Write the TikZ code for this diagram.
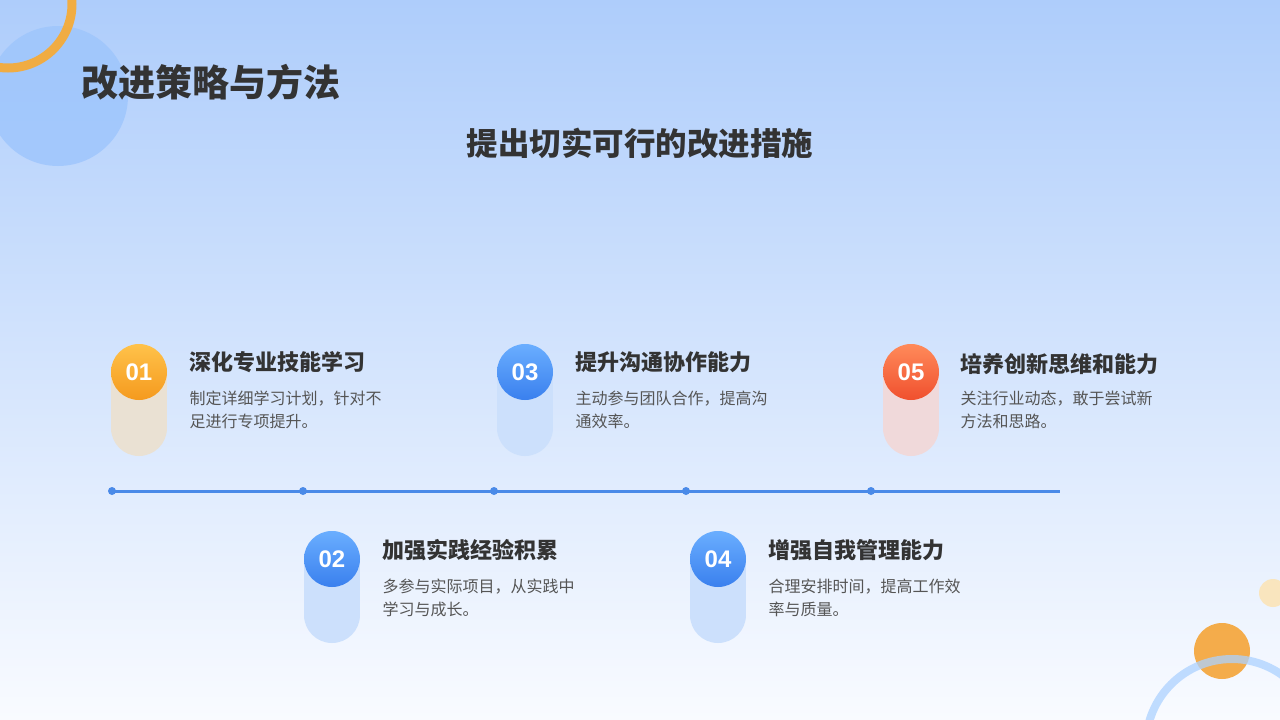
\documentclass[tikz,border=0pt]{standalone}
\usepackage{fontspec}
\setmainfont{Noto Sans CJK SC}
\newfontfamily\numf{Liberation Sans}
\usetikzlibrary{shadings}
\definecolor{bgtop}{HTML}{AECDFB}
\definecolor{bgbot}{HTML}{F9FBFF}
\definecolor{tline}{HTML}{4A8AE8}
\definecolor{txt}{HTML}{333333}
\definecolor{desc}{HTML}{555555}
\definecolor{orA}{HTML}{FFC24A}
\definecolor{orB}{HTML}{F59A1E}
\definecolor{blA}{HTML}{6AAEFF}
\definecolor{blB}{HTML}{3A80EE}
\definecolor{rdA}{HTML}{FF8A5A}
\definecolor{rdB}{HTML}{F0502E}
\definecolor{pOr}{HTML}{EAE1D3}
\definecolor{pBl}{HTML}{CCE0FC}
\definecolor{pRd}{HTML}{F0D9DA}
\tikzset{
  pill/.style={line width=56pt, line cap=round},
  numc/.style={circle, minimum size=56pt, inner sep=0pt, text=white, font=\numf\bfseries\fontsize{24}{24}\selectfont},
  ttl/.style={anchor=west, text=txt, font=\bfseries\fontsize{22}{22}\selectfont},
  dsc/.style={anchor=north west, text=desc, align=left, font=\fontsize{16}{23}\selectfont},
  dot/.style={circle, fill=tline, inner sep=0pt, minimum size=8pt}
}
\begin{document}
\begin{tikzpicture}[x=1pt,y=-1pt]
\shade[top color=bgtop, bottom color=bgbot] (0,0) rectangle (1280,720);
\useasboundingbox (0,0) rectangle (1280,720);
\begin{scope}
\clip (0,0) rectangle (1280,720);
\fill[blA!25!bgtop, opacity=0.8] (58,96) circle (70);
\draw[line width=9pt, orB!60!orA, opacity=0.9] (8,4) circle (64);
\fill[orB, opacity=0.8] (1222,651) circle (28);
\fill[orA!50!white, opacity=0.7] (1273,593) circle (14);
\draw[line width=8pt, blA!55!white, opacity=0.75] (1232,745) circle (86);
\end{scope}
\node[anchor=west, text=txt, font=\bfseries\fontsize{37}{37}\selectfont] (title) at (78,82) {改进策略与方法};
\node[text=txt, font=\bfseries\fontsize{31.5}{32}\selectfont] (sub) at (640,143) {提出切实可行的改进措施};
\coordinate (ls) at (112,491); \coordinate (le) at (1060,491);
\draw[tline, line width=3pt] (ls) -- (le);
\foreach \x/\n in {112/d1,303/d2,494/d3,686/d4,871/d5} \node[dot] (\n) at (\x,491) {};
\draw[pill, pOr] (139,373) -- (139,428);
\draw[pill, pBl] (525,373) -- (525,428);
\draw[pill, pRd] (911,373) -- (911,428);
\draw[pill, pBl] (332,559) -- (332,615);
\draw[pill, pBl] (718,559) -- (718,615);
\node[numc, top color=orA, bottom color=orB] (n1) at (139,372) {01};
\node[numc, top color=blA, bottom color=blB] (n3) at (525,372) {03};
\node[numc, top color=rdA, bottom color=rdB] (n5) at (911,372) {05};
\node[numc, top color=blA, bottom color=blB] (n2) at (332,559) {02};
\node[numc, top color=blA, bottom color=blB] (n4) at (718,559) {04};
\node[ttl] (t1) at (186,362) {深化专业技能学习};
\node[dsc] (s1) at (186,387) {制定详细学习计划，针对不\\足进行专项提升。};
\node[ttl] (t3) at (572,362) {提升沟通协作能力};
\node[dsc] (s3) at (572,387) {主动参与团队合作，提高沟\\通效率。};
\node[ttl] (t5) at (957,364) {培养创新思维和能力};
\node[dsc] (s5) at (957,387) {关注行业动态，敢于尝试新\\方法和思路。};
\node[ttl] (t2) at (379,550) {加强实践经验积累};
\node[dsc] (s2) at (379,575) {多参与实际项目，从实践中\\学习与成长。};
\node[ttl] (t4) at (765,550) {增强自我管理能力};
\node[dsc] (s4) at (765,575) {合理安排时间，提高工作效\\率与质量。};
\end{tikzpicture}
\end{document}
